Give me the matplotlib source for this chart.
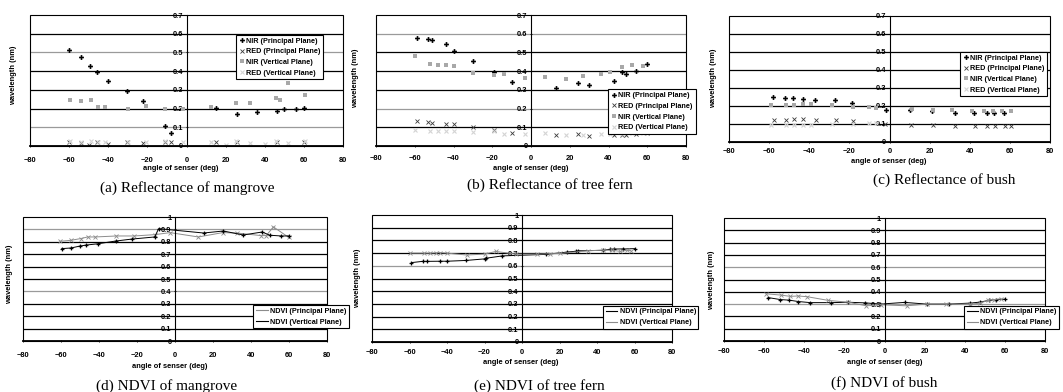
import numpy as np
import matplotlib.pyplot as plt
from matplotlib.lines import Line2D
from matplotlib.patches import Rectangle

plt.rcParams['font.family'] = ['Liberation Sans', 'DejaVu Sans']

W, H = 1063, 392

### data (a) mangrove reflectance
mg_nir_pp_x = [-60, -54, -49.5, -46, -40, -30.5, -22, -11, -8, 15, 26, 36, 46.5, 50, 56, 60]
mg_nir_pp_y = [0.515, 0.474, 0.426, 0.397, 0.349, 0.294, 0.241, 0.109, 0.068,
               0.205, 0.169, 0.184, 0.187, 0.198, 0.196, 0.205]
mg_red_pp_x = [-60, -54, -50, -46, -40, -30.5, -22, -11, -8, 15, 26, 46.5, 60]
mg_red_pp_y = [0.022, 0.016, 0.008, 0.02, 0.012, 0.02, 0.014, 0.024, 0.024, 0.02, 0.022, 0.022, 0.02]
mg_nir_vp_x = [-59.5, -54, -49, -45, -41.5, -30, -20.5, -11, -2, 12.5, 25.5, 32.5, 45.5, 48, 52, 60.5]
mg_nir_vp_y = [0.244, 0.239, 0.248, 0.207, 0.207, 0.196, 0.212, 0.196, 0.196,
               0.21, 0.232, 0.232, 0.255, 0.246, 0.339, 0.271]
mg_red_vp_x = [-59.5, -54, -49, -45, -41.5, -30, -20.5, -11, -2, 12.5, 20, 25.5, 32.5, 40, 45.5, 52, 60.5]
mg_red_vp_y = [0.025, 0.02, 0.025, 0.02, 0.02, 0.02, 0.02, 0.025, 0.02,
               0.02, 0.008, 0.025, 0.015, 0.01, 0.025, 0.015, 0.025]

### data (b) tree fern reflectance
tf_nir_pp_x = [-59, -53, -51, -44, -40, -30, -19, -10, 13, 24, 30, 43, 47, 49, 54, 60]
tf_nir_pp_y = [0.579, 0.573, 0.566, 0.546, 0.509, 0.454, 0.396, 0.34,
               0.31, 0.335, 0.325, 0.35, 0.395, 0.385, 0.40, 0.44]
tf_red_pp_x = [-59, -53, -51, -44, -40, -30, -19, -10, 13, 24, 30, 43, 47, 49, 54, 60]
tf_red_pp_y = [0.135, 0.13, 0.125, 0.12, 0.115, 0.1, 0.085, 0.07,
               0.06, 0.062, 0.056, 0.06, 0.06, 0.06, 0.062, 0.068]
tf_nir_vp_x = [-60, -52, -48, -44, -40, -30, -19, -14, -3, 7, 18, 27, 36, 41, 47, 52, 58]
tf_nir_vp_y = [0.48, 0.44, 0.435, 0.435, 0.425, 0.39, 0.38, 0.385, 0.365,
               0.37, 0.36, 0.375, 0.385, 0.395, 0.42, 0.435, 0.425]
tf_red_vp_x = tf_nir_vp_x
tf_red_vp_y = [0.085, 0.08, 0.08, 0.08, 0.08, 0.075, 0.08, 0.065, 0.065,
               0.07, 0.06, 0.06, 0.065, 0.065, 0.065, 0.07, 0.07]

### data (c) bush reflectance
bu_nir_pp_x = [-58, -52, -48, -43, -37, -27, -18.5, -1.5, 10, 21, 32.5, 42, 48.5, 52, 57]
bu_nir_pp_y = [0.25, 0.245, 0.245, 0.24, 0.235, 0.232, 0.215, 0.18,
               0.18, 0.17, 0.16, 0.16, 0.16, 0.16, 0.162]
bu_red_pp_x = [-57.5, -51.5, -47.5, -43, -36.5, -26.5, -18, -2, 10.5, 21.5, 32.5, 42.5, 48.5, 52.5, 57.5, 60.5]
bu_red_pp_y = [0.125, 0.125, 0.13, 0.13, 0.125, 0.125, 0.116, 0.1,
               0.096, 0.096, 0.09, 0.09, 0.088, 0.088, 0.088, 0.088]
bu_nir_vp_x = [-59, -51.5, -47.5, -43, -39, -28.5, -18, -10, -6.5, 11, 21.5, 31, 41, 47, 51.5, 56, 60.5]
bu_nir_vp_y = [0.204, 0.204, 0.204, 0.21, 0.21, 0.204, 0.197, 0.197, 0.19,
               0.184, 0.178, 0.178, 0.17, 0.17, 0.17, 0.17, 0.17]
bu_red_vp_x = [-59, -51.5, -47.5, -43, -39, -28.5, -18, -10, -6.5]
bu_red_vp_y = [0.094, 0.094, 0.094, 0.094, 0.094, 0.1, 0.1, 0.104, 0.104]

### data (d) NDVI mangrove
mg_ndvi_pp_x = [-60.5, -54.8, -49.6, -46, -42, -30.8, -21.4, -10.5, -2.6, 12.3, 25.1, 32.5, 45.3, 48, 51.8, 59.8]
mg_ndvi_pp_y = [0.804, 0.812, 0.826, 0.839, 0.839, 0.847, 0.847, 0.858, 0.874,
                0.839, 0.874, 0.871, 0.85, 0.85, 0.92, 0.836]
mg_ndvi_vp_x = [-59.6, -54.8, -49.9, -46.6, -40.6, -31.3, -22.7, -10.7, -8.6, 15, 25.5, 35.9, 45.9, 49.9, 55.9, 59.8]
mg_ndvi_vp_y = [0.745, 0.75, 0.766, 0.774, 0.784, 0.806, 0.822, 0.839, 0.906,
                0.871, 0.887, 0.855, 0.879, 0.853, 0.847, 0.847]

### data (e) NDVI tree fern
tf_ndvi_pp_x = [-59, -53, -50.5, -44, -40, -30, -19.5, -19, -10.5, 13, 24, 29, 30, 43, 47, 49, 54, 60]
tf_ndvi_pp_y = [0.625, 0.635, 0.635, 0.636, 0.636, 0.642, 0.655, 0.66, 0.678,
                0.69, 0.708, 0.715, 0.718, 0.722, 0.73, 0.732, 0.733, 0.735]
tf_ndvi_vp_x = [-59.5, -52.5, -49, -46, -44, -40, -29.5, -20, -14, -3, 8, 15, 20.5, 35, 43, 48, 52.5, 56, 58]
tf_ndvi_vp_y = [0.70, 0.70, 0.70, 0.702, 0.704, 0.70, 0.685, 0.692, 0.713, 0.692,
                0.692, 0.695, 0.697, 0.718, 0.723, 0.723, 0.713, 0.723, 0.718]

### data (f) NDVI bush
bu_ndvi_pp_x = [-58, -52, -47.5, -43, -37, -26.5, -18, -9.5, -2, 10, 21, 32, 42.5, 47.5, 52, 55.5, 60]
bu_ndvi_pp_y = [0.353, 0.337, 0.332, 0.321, 0.312, 0.312, 0.315, 0.31, 0.3,
                0.314, 0.30, 0.30, 0.308, 0.316, 0.33, 0.337, 0.34]
bu_ndvi_vp_x = [-59, -51.5, -47, -43, -38.5, -28, -18, -9, -1.5, 11, 21, 30.5, 42.5, 47.5, 51.5, 54.5, 58]
bu_ndvi_vp_y = [0.384, 0.373, 0.363, 0.366, 0.36, 0.33, 0.315, 0.286, 0.295,
                0.286, 0.30, 0.30, 0.30, 0.307, 0.33, 0.337, 0.343]

refl_labels = ['NIR (Principal Plane)', 'RED (Principal Plane)', 'NIR (Vertical Plane)', 'RED (Vertical Plane)']
ndvi_labels = ['NDVI (Principal Plane)', 'NDVI (Vertical Plane)']
captions = ['(a) Reflectance of mangrove', '(b) Reflectance of tree fern', '(c) Reflectance of bush',
            '(d) NDVI of mangrove', '(e) NDVI of tree fern', '(f) NDVI of bush']

fig = plt.figure(figsize=(W / 100, H / 100), dpi=100)


def px(x, y):
    return x / W, 1 - y / H


def excel_axes(left, right, top, bottom, ymax, xpad, gray_lines=()):
    ax = fig.add_axes([left / W, 1 - bottom / H, (right - left) / W, (bottom - top) / H])
    ax.set_xlim(-80, 80)
    ax.set_ylim(0, ymax)
    ax.set_xticks(range(-80, 81, 20))
    yt = np.round(np.arange(0, ymax + 1e-9, 0.1), 1)
    ax.set_yticks(yt)
    ax.set_yticklabels([f'{v:g}' for v in yt])
    for v in yt[1:-1]:
        c = '#9a9a9a' if any(abs(v - g) < 1e-6 for g in gray_lines) else 'black'
        ax.axhline(v, color=c, lw=0.9, zorder=0)
    ax.spines['left'].set_position(('data', 0))
    ax.spines['left'].set_linewidth(0.8)
    ax.spines['bottom'].set_linewidth(1.3)
    ax.spines['right'].set_visible(False)
    ax.spines['top'].set_visible(False)
    ax.add_patch(Rectangle((0, 0), 1, 1, transform=ax.transAxes, fill=False,
                           lw=0.8, ec='black', clip_on=False, zorder=3))
    ax.tick_params(labelsize=5.4, width=0.6, length=2, direction='inout')
    ax.tick_params(axis='y', pad=1.5)
    ax.tick_params(axis='x', pad=xpad)
    for lbl in ax.get_xticklabels() + ax.get_yticklabels():
        lbl.set_fontweight('bold')
    return ax


def labels(xl_x, xl_y, yl_x, yl_y):
    fig.text(*px(xl_x, xl_y), 'angle of senser (deg)', fontsize=5.4, fontweight='bold',
             ha='center', va='center')
    fig.text(*px(yl_x, yl_y), 'wavelength (nm)', fontsize=5.4, fontweight='bold',
             rotation=90, ha='center', va='center')


def caption(text, x, y):
    fig.text(*px(x, y), text, fontsize=11, family='Liberation Serif', ha='center', va='center')


def refl_panel(ax, nx, ny, rx, ry, vx, vy, wx, wy, leg_anchor):
    h1, = ax.plot(nx, ny, 'P', color='black', ms=3.5, mew=0, label=refl_labels[0])
    h2, = ax.plot(rx, ry, 'x', color='#3a3a3a', ms=2.8, mew=0.6, label=refl_labels[1])
    h3, = ax.plot(vx, vy, 's', color='#a8a8a8', ms=2.6, mew=0, label=refl_labels[2])
    h4, = ax.plot(wx, wy, 'x', color='#d4d4d4', ms=2.8, mew=0.8, label=refl_labels[3])
    leg = ax.legend(handles=[h1, h2, h3, h4], loc='upper left', bbox_to_anchor=leg_anchor,
                    prop={'size': 5.2, 'weight': 'bold'}, frameon=True, fancybox=False,
                    edgecolor='black', framealpha=1, borderpad=0.4, handletextpad=0.1,
                    labelspacing=0.5, handlelength=0.9, borderaxespad=0)
    leg.get_frame().set_linewidth(0.8)
    leg.set_zorder(5)


def ndvi_panel(ax, px_, py_, vx_, vy_, c_p, m_p, c_v, m_v, leg_anchor):
    ax.plot(px_, py_, color=c_p, lw=0.7, marker=m_p, ms=2.8, mew=0.6 if m_p == 'x' else 0,
            mec=c_p, mfc=c_p, zorder=2)
    ax.plot(vx_, vy_, color=c_v, lw=0.7, marker=m_v, ms=2.8, mew=0.6 if m_v == 'x' else 0,
            mec=c_v, mfc=c_v, zorder=2)
    handles = [Line2D([], [], color=c_p, lw=0.8), Line2D([], [], color=c_v, lw=0.8)]
    leg = ax.legend(handles, ndvi_labels, loc='upper left', bbox_to_anchor=leg_anchor,
                    prop={'size': 5.2, 'weight': 'bold'}, frameon=True, fancybox=False,
                    edgecolor='black', framealpha=1, borderpad=0.35, handletextpad=0.3,
                    labelspacing=0.55, handlelength=1.6, borderaxespad=0)
    leg.get_frame().set_linewidth(0.8)
    leg.set_zorder(5)


# (a)
ax = excel_axes(30, 343, 15, 146, 0.7, 7, gray_lines=(0.1, 0.5))
refl_panel(ax, mg_nir_pp_x, mg_nir_pp_y, mg_red_pp_x, mg_red_pp_y,
           mg_nir_vp_x, mg_nir_vp_y, mg_red_vp_x, mg_red_vp_y, (0.657, 0.85))
labels(181, 168, 14, 75)
caption(captions[0], 187, 188)

# (b)
ax = excel_axes(376, 686, 15, 146, 0.7, 5.5, gray_lines=(0.6, 0.2))
refl_panel(ax, tf_nir_pp_x, tf_nir_pp_y, tf_red_pp_x, tf_red_pp_y,
           tf_nir_vp_x, tf_nir_vp_y, tf_red_vp_x, tf_red_vp_y, (0.749, 0.433))
labels(531, 168, 356, 78)
caption(captions[1], 550, 185)

# (c)
ax = excel_axes(729, 1050, 16, 142, 0.7, 3.5)
refl_panel(ax, bu_nir_pp_x, bu_nir_pp_y, bu_red_pp_x, bu_red_pp_y,
           bu_nir_vp_x, bu_nir_vp_y, bu_red_vp_x, bu_red_vp_y, (0.72, 0.717))
labels(889, 162, 714, 78)
caption(captions[2], 944, 180)

# (d)
ax = excel_axes(23, 327, 217, 341, 1.0, 7, gray_lines=(0.9, 0.4))
ndvi_panel(ax, mg_ndvi_pp_x, mg_ndvi_pp_y, mg_ndvi_vp_x, mg_ndvi_vp_y,
           '#8c8c8c', 'x', 'black', 'P', (0.758, 0.29))
labels(170, 367, 10, 274)
caption(captions[3], 167, 386)

# (e)
ax = excel_axes(372, 672, 215, 342, 1.0, 4, gray_lines=(0.6,))
ndvi_panel(ax, tf_ndvi_pp_x, tf_ndvi_pp_y, tf_ndvi_vp_x, tf_ndvi_vp_y,
           'black', 'P', '#8c8c8c', 'x', (0.771, 0.286))
labels(521, 362, 358, 278)
caption(captions[4], 539, 386)

# (f)
ax = excel_axes(724, 1045, 218, 341, 1.0, 4, gray_lines=(0.6, 0.3))
ndvi_panel(ax, bu_ndvi_pp_x, bu_ndvi_pp_y, bu_ndvi_vp_x, bu_ndvi_vp_y,
           'black', 'P', '#8c8c8c', 'x', (0.748, 0.287))
labels(885, 363, 712, 280)
caption(captions[5], 884, 383)

fig.savefig('out.png', dpi=100)
